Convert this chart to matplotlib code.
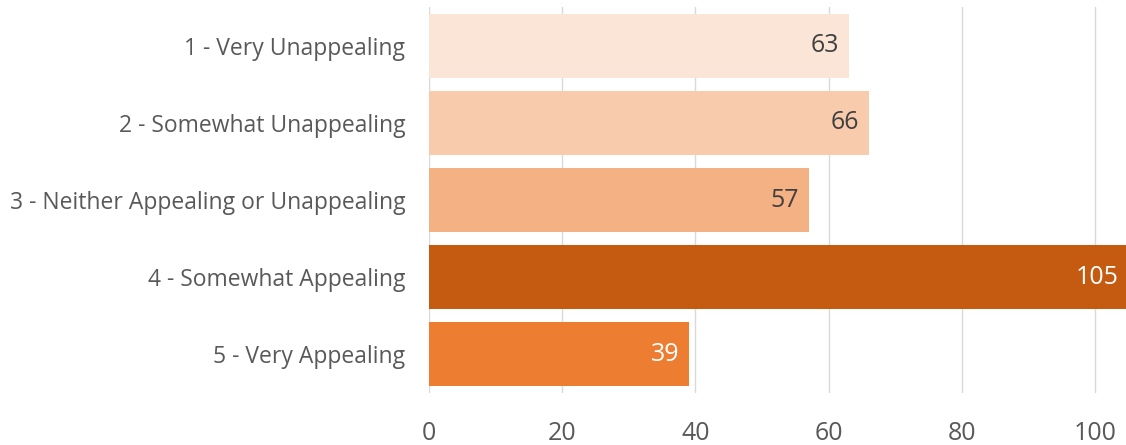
import matplotlib.pyplot as plt

plt.rcParams['font.family'] = ['Open Sans', 'DejaVu Sans']

categories = ['1 - Very Unappealing', '2 - Somewhat Unappealing',
              '3 - Neither Appealing or Unappealing', '4 - Somewhat Appealing',
              '5 - Very Appealing']
counts = [63, 66, 57, 105, 39]
bar_colors = ['#FBE5D6', '#F8CBAD', '#F4B183', '#C55A11', '#ED7D31']
label_colors = ['#404040', '#404040', '#404040', 'white', 'white']
x_ticks = [0, 20, 40, 60, 80, 100]

fig = plt.figure(figsize=(11.26, 4.45), dpi=100)
ax = fig.add_axes([0.381, 0.117, 0.621, 0.867])

pos = list(range(len(categories)))
bars = ax.barh(pos, counts, height=0.83, color=bar_colors, zorder=2)

for b, v, c in zip(bars, counts, label_colors):
    ax.text(b.get_width() - 1.4, b.get_y() + b.get_height() / 2, str(v),
            ha='right', va='center', fontsize=18, color=c, zorder=3)

ax.set_xlim(0, 105)
ax.set_ylim(len(categories) - 0.5, -0.5)
ax.set_yticks(pos)
ax.set_yticklabels(categories, fontsize=16.5)
ax.set_xticks(x_ticks)
ax.tick_params(axis='both', length=0, colors='#595959')
ax.tick_params(axis='x', labelsize=18, pad=20)
ax.tick_params(axis='y', pad=17)
ax.grid(axis='x', color='#D9D9D9', linewidth=1, zorder=0)
for s in ax.spines.values():
    s.set_visible(False)

fig.savefig('out.png', dpi=100)
